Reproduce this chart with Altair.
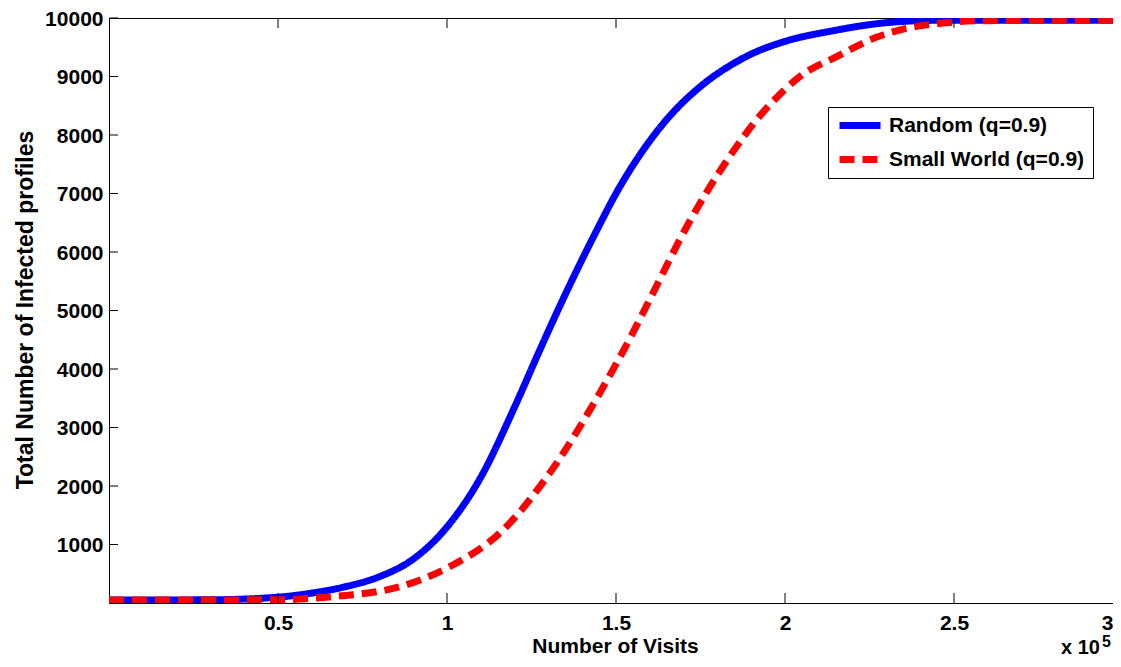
import altair as alt
import pandas as pd

# Data (x in units of 10^5 visits)
random_x = [0, 0.3, 0.5, 0.6, 0.7, 0.8, 0.9, 1.0, 1.1, 1.2, 1.275, 1.343, 1.45, 1.5, 1.55, 1.6,
            1.65, 1.75, 1.85, 1.906, 2.0, 2.14, 2.3, 2.45, 3.0]
random_y = [50, 55, 100, 170, 280, 450, 750, 1300, 2150, 3350, 4330, 5190, 6450, 7000, 7480, 7900,
            8265, 8830, 9230, 9400, 9600, 9780, 9920, 9960, 9960]

small_x = [0, 0.5, 0.6, 0.7, 0.8, 0.861, 1.009, 1.157, 1.305, 1.453, 1.55, 1.6, 1.71,
           1.83, 1.926, 2.0, 2.044, 2.153, 2.27, 2.35, 2.46, 2.6, 3.0]
small_y = [50, 55, 80, 130, 200, 280, 625, 1200, 2230, 3600, 4620, 5190, 6440,
           7580, 8330, 8780, 9000, 9340, 9670, 9810, 9910, 9955, 9960]

series_names = ["Random (q=0.9)", "Small World (q=0.9)"]
series_colors = ["#0000ff", "#ff0000"]

x_ticks = [0.5, 1.0, 1.5, 2.0, 2.5, 3.0]
y_ticks = [1000, 2000, 3000, 4000, 5000, 6000, 7000, 8000, 9000, 10000]

x_title = "Number of Visits"
y_title = "Total Number of Infected profiles"

W, H = 1014, 585
FONT = "Liberation Sans"

df = pd.concat([
    pd.DataFrame({"x": random_x, "y": random_y, "series": series_names[0], "o": range(len(random_x))}),
    pd.DataFrame({"x": small_x, "y": small_y, "series": series_names[1], "o": range(len(small_x))}),
])

xscale = alt.Scale(domain=[0, 3], nice=False, zero=False)
yscale = alt.Scale(domain=[0, 10000], nice=False)

lines = alt.Chart(df).mark_line(strokeWidth=7, strokeCap="butt", interpolate="monotone", clip=True).encode(
    x=alt.X("x:Q", scale=xscale,
            axis=alt.Axis(values=x_ticks, format="~g", title=x_title, labelFlush=True,
                          labelFlushOffset=-10,
                          labelOverlap=False, labelPadding=9,
                          titleX=506, titleY=49, titleBaseline="alphabetic", titleAlign="center")),
    y=alt.Y("y:Q", scale=yscale,
            axis=alt.Axis(values=y_ticks, format="d", title=y_title, labelPadding=6,
                          labelOverlap=False, labelFlush=False, labelOffset=1,
                          titleX=-77, titleY=291.5, titleBaseline="alphabetic", titleAlign="center",
                          titleFontSize=23)),
    color=alt.Color("series:N", scale=alt.Scale(domain=series_names, range=series_colors),
                    legend=alt.Legend(title=None)),
    strokeDash=alt.StrokeDash("series:N", scale=alt.Scale(domain=series_names, range=[[1, 0], [15, 8]]),
                              legend=alt.Legend(title=None)),
    order="o:Q",
)

xt = pd.DataFrame({"x": x_ticks})
yt = pd.DataFrame({"y": y_ticks})

xt_bottom = alt.Chart(xt).mark_rule(color="black", strokeWidth=1).encode(
    x=alt.X("x:Q", scale=xscale), y=alt.value(H), y2=alt.value(H - 10))
xt_top = alt.Chart(xt).mark_rule(color="black", strokeWidth=1).encode(
    x=alt.X("x:Q", scale=xscale), y=alt.value(0), y2=alt.value(10))
yt_left = alt.Chart(yt).mark_rule(color="black", strokeWidth=1).encode(
    y=alt.Y("y:Q", scale=yscale), x=alt.value(0), x2=alt.value(9))
yt_right = alt.Chart(yt).mark_rule(color="black", strokeWidth=1).encode(
    y=alt.Y("y:Q", scale=yscale), x=alt.value(W - 9), x2=alt.value(W))

exp_df = pd.DataFrame({"x": [3.0], "t": ["x 10"], "e": ["5"]})
exp_base = alt.Chart(exp_df).mark_text(font=FONT, fontWeight="bold", fontSize=20, align="right",
                                       baseline="alphabetic", dx=-23, color="black").encode(
    x=alt.X("x:Q", scale=xscale), y=alt.value(H + 51), text="t:N")
exp_sup = alt.Chart(exp_df).mark_text(font=FONT, fontWeight="bold", fontSize=16, align="left",
                                      baseline="alphabetic", dx=-21, color="black").encode(
    x=alt.X("x:Q", scale=xscale), y=alt.value(H + 44), text="e:N")

chart = alt.layer(lines, xt_bottom, xt_top, yt_left, yt_right, exp_base, exp_sup).properties(
    width=W, height=H,
    autosize=alt.AutoSizeParams(type="none"),
    padding={"left": 101, "top": 10, "right": -10, "bottom": 54},
    background="white",
).configure_view(
    stroke="black", strokeWidth=1
).configure_axis(
    domain=False, ticks=False, grid=False,
    labelFont=FONT, labelFontWeight="bold", labelFontSize=21, labelColor="black",
    titleFont=FONT, titleFontWeight="bold", titleFontSize=21, titleColor="black",
).configure_legend(
    orient="none", legendX=719, legendY=89,
    strokeColor="black", fillColor="white", padding=8,
    symbolType="stroke", symbolSize=1681, symbolStrokeWidth=7, clipHeight=21,
    rowPadding=12, labelOffset=5,
    labelFont=FONT, labelFontWeight="bold", labelFontSize=21, labelColor="black",
    labelLimit=400,
)

chart.save("out.html", embed_options={"renderer": "svg", "actions": False})
